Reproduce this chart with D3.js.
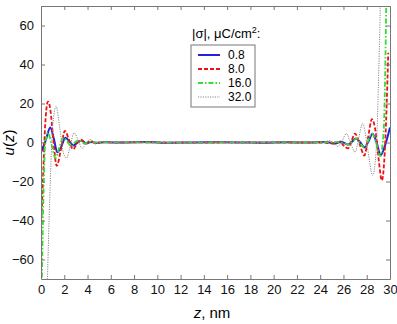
<!DOCTYPE html>
<html>
<head>
<meta charset="utf-8">
<script src="https://cdn.jsdelivr.net/npm/d3@7"></script>
<style>
body { margin: 0; background: #fff; }
text { font-family: "Liberation Sans", Arial, sans-serif; }
</style>
</head>
<body>
<div id="chart"></div>
<script>
var width = 397, height = 324;
var margin = {left: 41, right: 7, top: 6, bottom: 45};

var seriesNames = ["0.8", "8.0", "16.0", "32.0"];
var xTicks = [0, 2, 4, 6, 8, 10, 12, 14, 16, 18, 20, 22, 24, 26, 28, 30];
var yTicks = [-60, -40, -20, 0, 20, 40, 60];

// |sigma| = 0.8
var zBlue = [0, 0.4, 0.8, 1.1, 1.4, 1.75, 2.1, 2.45, 2.8, 3.15, 3.5, 3.9, 4.3, 4.8, 5.5, 7, 9, 11, 13, 15, 17, 19, 21, 23, 24.5, 25.3, 25.8, 26.4, 27.1, 27.45, 27.8, 28.15, 28.5, 28.85, 29.2, 29.6, 30];
var uBlue = [-5, 1, 7.7, 2, -5, -2, 2.5, 0.5, -1.5, 0, 1, -0.5, 0.3, -0.2, 0.1, 0, 0.2, -0.1, 0, 0.1, 0, -0.1, 0.1, 0, 0.2, -0.5, 0.4, -1, 2, 0, -2.5, 0.5, 4.5, 0, -6.5, -1, 7.7];
// |sigma| = 8.0
var zRed = [0, 0.15, 0.35, 0.6, 0.8, 1.05, 1.35, 1.7, 2.05, 2.4, 2.75, 3.1, 3.45, 3.8, 4.2, 4.7, 5.3, 6.5, 9, 12, 15, 18, 21, 24, 25.2, 25.7, 26.0, 26.4, 26.7, 27.0, 27.4, 27.8, 28.1, 28.45, 28.8, 29.05, 29.3, 29.55, 29.85];
var uRed = [-45, -22, 8, 21, 17, 2, -12, -4, 6, 1.5, -3.5, -0.5, 1.5, -0.5, 0.6, -0.3, 0.2, 0, 0.1, -0.1, 0, 0.1, 0, 0, -0.5, 0.5, -1.5, -3, 1, 4.6, -1, -6.7, 2, 12, 4, -10, -19.5, -5, 46];
// |sigma| = 16.0
var zGreen = [0.05, 0.2, 0.35, 0.6, 0.9, 1.25, 1.55, 1.9, 2.25, 2.6, 2.95, 3.3, 3.7, 4.2, 5, 6.5, 9, 12, 15, 18, 21, 24, 25.5, 26.1, 26.5, 26.8, 27.1, 27.4, 27.75, 28.1, 28.45, 28.8, 29.15, 29.45, 29.7];
var uGreen = [-80, -30, -2, 5, -1, -8, -3, 2.5, 0.5, -2, 0.3, 1, -0.5, 0.3, 0, 0.1, 0, -0.1, 0, 0.1, 0, 0, 0.3, -0.5, -1, 0.5, 2, 0, -2.5, 0.5, 4.6, 0, -7, 5, 80];
// |sigma| = 32.0
var zGray = [0.45, 0.6, 0.8, 1.0, 1.3, 1.6, 1.95, 2.2, 2.5, 2.85, 3.2, 3.55, 3.9, 4.3, 4.7, 5.2, 6, 8, 11, 14, 17, 20, 23, 24.4, 24.8, 25.2, 25.5, 25.9, 26.25, 26.6, 27.0, 27.3, 27.65, 28.0, 28.25, 28.5, 28.8, 29.05, 29.3];
var uGray = [-95, -60, -20, 8, 18.5, 8, -6, -8, -2, 5, 1, -3, 0, 1.5, -0.8, 0.4, 0, 0.1, 0, -0.1, 0, 0.1, 0, 0.3, 1, -0.5, -2, 1, 4.6, 0, -5, 2, 9.7, 0, -10, -17, -5, 40, 110];

var styles = [
  {color: "#2222dd", width: 2, dash: null},
  {color: "#ee1111", width: 1.8, dash: "4,2"},
  {color: "#33dd33", width: 1.8, dash: "5,2,1.5,2"},
  {color: "#8a8a8a", width: 1, dash: "1.2,1.2"}
];
var series = [[zBlue, uBlue], [zRed, uRed], [zGreen, uGreen], [zGray, uGray]];

var x = d3.scaleLinear().domain([0, 30]).range([margin.left, width - margin.right]);
var y = d3.scaleLinear().domain([-70, 70]).range([height - margin.bottom, margin.top]);

var svg = d3.select("#chart").append("svg")
  .attr("width", width)
  .attr("height", height);

svg.append("defs").append("clipPath").attr("id", "clip")
  .append("rect")
  .attr("x", x(0)).attr("y", y(70))
  .attr("width", x(30) - x(0)).attr("height", y(-70) - y(70));

var axisColor = "#777";
var line = d3.line()
  .x(function(d) { return x(d[0]); })
  .y(function(d) { return y(d[1]); })
  .curve(d3.curveMonotoneX);

var plot = svg.append("g").attr("clip-path", "url(#clip)");
series.forEach(function(s, i) {
  var pts = s[0].map(function(z, j) { return [z, s[1][j]]; });
  plot.append("path")
    .attr("d", line(pts))
    .attr("fill", "none")
    .attr("stroke", styles[i].color)
    .attr("stroke-width", styles[i].width)
    .attr("stroke-dasharray", styles[i].dash);
});

// axes, ticks inward on all four sides
var gBottom = svg.append("g").attr("transform", "translate(0," + y(-70) + ")")
  .call(d3.axisBottom(x).tickValues(xTicks).tickSizeInner(-4).tickSizeOuter(0).tickPadding(6));
var gTop = svg.append("g").attr("transform", "translate(0," + y(70) + ")")
  .call(d3.axisTop(x).tickValues(xTicks).tickSizeInner(-4).tickSizeOuter(0).tickFormat(""));
var gLeft = svg.append("g").attr("transform", "translate(" + x(0) + ",0)")
  .call(d3.axisLeft(y).tickValues(yTicks).tickSizeInner(-4).tickSizeOuter(0).tickPadding(7));
var gRight = svg.append("g").attr("transform", "translate(" + x(30) + ",0)")
  .call(d3.axisRight(y).tickValues(yTicks).tickSizeInner(-4).tickSizeOuter(0).tickFormat(""));

[gBottom, gTop, gLeft, gRight].forEach(function(g) {
  g.selectAll("path").attr("stroke", axisColor);
  g.selectAll("line").attr("stroke", axisColor);
  g.selectAll("text").attr("fill", "#111").style("font-size", "13px")
    .style("font-family", "'Liberation Sans', Arial, sans-serif");
});

// axis labels
svg.append("text")
  .attr("x", 212).attr("y", 318)
  .attr("text-anchor", "middle")
  .style("font-size", "15px")
  .html('<tspan font-style="italic">z</tspan>, nm');

svg.append("text")
  .attr("transform", "translate(14," + y(0) + ") rotate(-90)")
  .attr("text-anchor", "middle")
  .style("font-size", "15px")
  .html('<tspan font-style="italic">u</tspan>(<tspan font-style="italic">z</tspan>)');

// legend
svg.append("text")
  .attr("x", 192).attr("y", 38)
  .style("font-size", "13px")
  .html('|σ|, μC/cm<tspan dy="-5" font-size="9px">2</tspan><tspan dy="5">:</tspan>');

svg.append("rect")
  .attr("x", 191).attr("y", 45)
  .attr("width", 64).attr("height", 62)
  .attr("fill", "#fff")
  .attr("stroke", "#777")
  .attr("stroke-width", 1);

var rowY = [55, 69, 83, 97];
seriesNames.forEach(function(name, i) {
  svg.append("line")
    .attr("x1", 198).attr("x2", 220)
    .attr("y1", rowY[i]).attr("y2", rowY[i])
    .attr("stroke", styles[i].color)
    .attr("stroke-width", styles[i].width)
    .attr("stroke-dasharray", styles[i].dash);
  svg.append("text")
    .attr("x", 228).attr("y", rowY[i] + 4.3)
    .style("font-size", "12px")
    .text(name);
});
</script>
</body>
</html>
